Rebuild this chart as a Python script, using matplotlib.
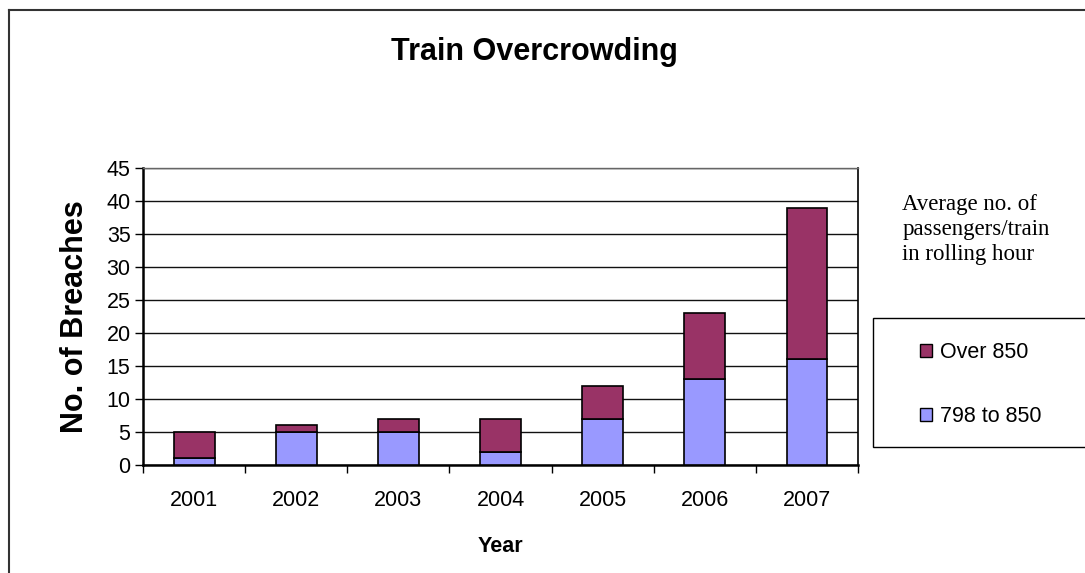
import numpy as np
import matplotlib
matplotlib.use("Agg")
import matplotlib.pyplot as plt
from matplotlib.patches import Patch, Rectangle
from matplotlib.lines import Line2D

plt.rcParams['font.family'] = ['Liberation Sans', 'DejaVu Sans']

# data: breaches per year, split by train load band
years = ['2001', '2002', '2003', '2004', '2005', '2006', '2007']
band_798_850 = [1, 5, 5, 2, 7, 13, 16]
band_over_850 = [4, 1, 2, 5, 5, 10, 23]

col_low = '#9999FF'
col_high = '#993366'

fig = plt.figure(figsize=(10.85, 5.73), dpi=100)
ax = fig.add_axes([0.1318, 0.1885, 0.659, 0.5183])

x = np.arange(len(years))
ax.bar(x, band_798_850, width=0.4, color=col_low, edgecolor='black', linewidth=1.2, zorder=3)
ax.bar(x, band_over_850, width=0.4, bottom=band_798_850, color=col_high,
       edgecolor='black', linewidth=1.2, zorder=3)

ax.set_xlim(-0.5, len(years) - 0.5)
ax.set_ylim(0, 45)
ax.set_yticks(np.arange(0, 46, 5))
ax.tick_params(axis='y', labelsize=15.5, length=6, width=1, direction='out', pad=3)
ax.yaxis.grid(True, color='#111111', linewidth=1)
ax.set_axisbelow(True)

# x ticks sit on the category boundaries, labels at bar centres
ax.set_xticks(np.arange(-0.5, len(years), 1.0))
ax.set_xticklabels([])
ax.set_xticks(x, minor=True)
ax.set_xticklabels(years, minor=True, fontsize=15.5)
ax.tick_params(axis='x', which='major', length=6, width=1, direction='out')
ax.tick_params(axis='x', which='minor', length=0, pad=18)

for s in ['left', 'bottom']:
    ax.spines[s].set_linewidth(1.8)
ax.spines['right'].set_linewidth(1.2)
ax.spines['top'].set_linewidth(1.0)
ax.spines['top'].set_color('#666666')

ax.set_ylabel('No. of Breaches', fontsize=22, fontweight='bold', labelpad=12)
ax.set_xlabel('Year', fontsize=15.5, fontweight='bold', labelpad=18)

fig.text(0.493, 0.909, 'Train Overcrowding', fontsize=22, fontweight='bold',
         ha='center', va='center')

fig.text(0.8315, 0.600, 'Average no. of\npassengers/train\nin rolling hour',
         family=['Liberation Serif', 'DejaVu Serif'], fontsize=16.5,
         ha='left', va='center', linespacing=1.25)

# legend box runs off the right edge
fig.add_artist(Rectangle((0.8046, 0.2199), 0.25, 0.2251, transform=fig.transFigure,
                         facecolor='white', edgecolor='black', linewidth=1.0))
handles = [Patch(facecolor=col_high, edgecolor='black', label='Over 850'),
           Patch(facecolor=col_low, edgecolor='black', label='798 to 850')]
leg = fig.legend(handles=handles, loc='center left', bbox_to_anchor=(0.8479, 0.3290),
                 fontsize=15.5, frameon=False,
                 handlelength=0.56, handleheight=0.56, handletextpad=0.37,
                 labelspacing=2.0, borderpad=0, borderaxespad=0)

# outer chart border, open on the right and bottom
fig.add_artist(Line2D([0.0083, 0.0083], [0.0, 0.9825], transform=fig.transFigure,
                      color='#333333', linewidth=1.5))
fig.add_artist(Line2D([0.0083, 1.0], [0.9825, 0.9825], transform=fig.transFigure,
                      color='#333333', linewidth=1.5))

fig.savefig('out.png', dpi=100)
